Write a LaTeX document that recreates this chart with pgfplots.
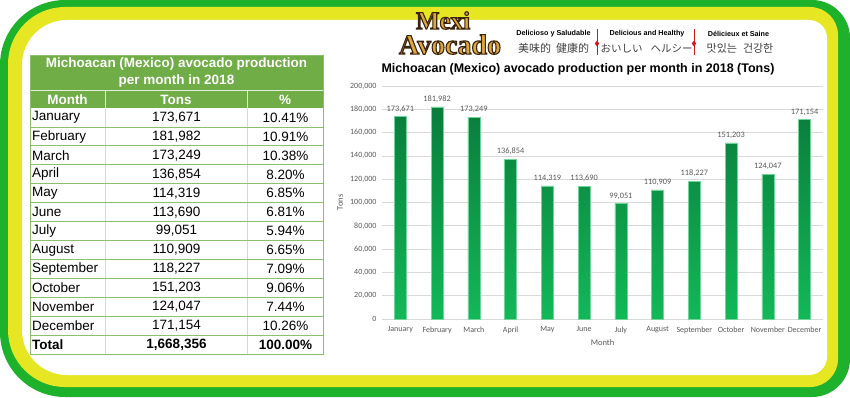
\documentclass[border=0pt]{standalone}
\usepackage{pgfplots}
\pgfplotsset{compat=1.18}
\usepackage{pgfplotstable}
\usepackage{fontspec}
\setmainfont{Liberation Sans}
\newfontfamily\chartfont{Carlito}
\newfontfamily\scfont{Noto Sans CJK SC}
\newfontfamily\jpfont{Noto Sans CJK JP}
\newfontfamily\krfont{Noto Sans CJK KR}
\newfontfamily\logofont{Liberation Serif}

\definecolor{frgreen}{HTML}{1EB12C}
\definecolor{fryellow}{HTML}{E6E622}
\definecolor{hdr}{HTML}{70AD47}
\definecolor{tline}{HTML}{8CC06A}
\definecolor{vline}{HTML}{D3DDCB}
\definecolor{barTop}{HTML}{0A7C3B}
\definecolor{barBot}{HTML}{12B858}
\definecolor{txtgray}{HTML}{595959}
\definecolor{gridgray}{HTML}{D9D9D9}
\definecolor{logogold}{HTML}{DDA83A}
\definecolor{logobrown}{HTML}{3A2210}
\definecolor{tagred}{HTML}{D01818}

\pgfplotstableread{
idx month tons
0 January 173671
1 February 181982
2 March 173249
3 April 136854
4 May 114319
5 June 113690
6 July 99051
7 August 110909
8 September 118227
9 October 151203
10 November 124047
11 December 171154
}\prodtable

\newcommand\rbox[7]{%
 \fill[#1] ({#2+#6},#3) -- ({#4-#7},#3) arc[start angle=-90,end angle=0,radius=#7]
  -- (#4,{#5-#7}) arc[start angle=0,end angle=90,radius=#7]
  -- ({#2+#6},#5) arc[start angle=90,end angle=180,radius=#6]
  -- (#2,{#3+#6}) arc[start angle=180,end angle=270,radius=#6] -- cycle;}

% outlined text via PDF text rendering mode 2 (fill + stroke)
\newcommand\outlined[4]{% x, y, size, text
 \node[text=logogold, inner sep=0pt] at (#1,#2) {\logofont\bfseries\fontsize{#3}{#3}\selectfont
   \special{pdf:literal direct 2 Tr 1.1 w 0.227 0.133 0.063 RG}#4\special{pdf:literal direct 0 Tr 0 w}};}

\begin{document}
\begin{tikzpicture}
\path[use as bounding box] (0,0) rectangle (850pt,397pt);
\begin{scope}[x=1pt,y=1pt]
\rbox{frgreen}{0}{0}{850}{397}{65}{38}
\rbox{fryellow}{8}{10}{838}{390}{57}{28}
\rbox{white}{22}{22}{827}{377}{45}{18}
\end{scope}

\begin{scope}[x=1pt,y=-1pt,yshift=397pt]
% ---------- table ----------
\fill[hdr] (30,55) rectangle (323,108);
\draw[white!80!hdr, line width=0.7pt] (30,90) -- (323,90);
\draw[white!80!hdr, line width=0.7pt] (105,90) -- (105,108) (247,90) -- (247,108);
\draw[vline, line width=0.6pt] (105,108) -- (105,354) (247,108) -- (247,354);
\foreach \k in {1,...,12} {
  \pgfmathsetmacro\yy{108+18.92*\k}
  \draw[tline, line width=0.7pt] (30,\yy) -- (323,\yy);
}
\draw[tline, line width=0.7pt] (30,55) rectangle (323,354);
\node[text=white, font=\bfseries\fontsize{13.5}{15}\selectfont] at (176.5,64) {Michoacan (Mexico) avocado production};
\node[text=white, font=\bfseries\fontsize{13.5}{15}\selectfont] at (176.5,81) {per month in 2018};
\node[text=white, font=\bfseries\fontsize{13.5}{15}\selectfont] at (67.5,99.5) {Month};
\node[text=white, font=\bfseries\fontsize{13.5}{15}\selectfont] at (176,99.5) {Tons};
\node[text=white, font=\bfseries\fontsize{13.5}{15}\selectfont] at (285,99.5) {\%};
\foreach \m/\t/\p [count=\i] in {January/{173,671}/{10.41\%},February/{181,982}/{10.91\%},March/{173,249}/{10.38\%},April/{136,854}/{8.20\%},May/{114,319}/{6.85\%},June/{113,690}/{6.81\%},July/{99,051}/{5.94\%},August/{110,909}/{6.65\%},September/{118,227}/{7.09\%},October/{151,203}/{9.06\%},November/{124,047}/{7.44\%},December/{171,154}/{10.26\%}} {
  \pgfmathsetmacro\yy{108+18.92*(\i-1)+9.6}
  \node[anchor=west, inner sep=0pt, font=\fontsize{13.5}{15}\selectfont] at (32,\yy) {\m};
  \node[inner sep=0pt, font=\fontsize{13.5}{15}\selectfont] at (176.5,\yy) {\t};
  \node[inner sep=0pt, font=\fontsize{13.5}{15}\selectfont] at (285.5,\yy) {\p};
}
\pgfmathsetmacro\yy{108+18.92*12+9.6}
\node[anchor=west, inner sep=0pt, font=\bfseries\fontsize{13.5}{15}\selectfont] at (32,\yy) {Total};
\node[inner sep=0pt, font=\bfseries\fontsize{13.5}{15}\selectfont] at (176.5,\yy) {1,668,356};
\node[inner sep=0pt, font=\bfseries\fontsize{13.5}{15}\selectfont] at (285.5,\yy) {100.00\%};

% ---------- logo ----------
\outlined{443}{20.5}{25}{Mexi}
\outlined{450}{44.5}{28}{Avocado}
\node[inner sep=0pt, font=\bfseries\fontsize{7.2}{8}\selectfont] at (553.5,33.5) {Delicioso y Saludable};
\node[inner sep=0pt, font=\scfont\fontsize{11}{12}\selectfont, text=black!75] at (553.5,48.5) {美味的\hspace{5pt}健康的};
\node[inner sep=0pt, font=\bfseries\fontsize{7.2}{8}\selectfont] at (647,33.5) {Delicious and Healthy};
\node[inner sep=0pt, font=\jpfont\fontsize{10.5}{12}\selectfont, text=black!75] at (646.5,48.5) {おいしい\hspace{8pt}ヘルシー};
\node[inner sep=0pt, font=\bfseries\fontsize{7.2}{8}\selectfont] at (738.5,33.5) {Délicieux et Saine};
\node[inner sep=0pt, font=\krfont\fontsize{11}{12}\selectfont, text=black!75] at (740,48.5) {맛있는\hspace{6pt}건강한};
\foreach \xx in {597,694} {
  \draw[tagred, line width=0.9pt] (\xx,29) -- (\xx,55);
  \fill[tagred] (\xx,40.5) -- (\xx+2.2,43.5) -- (\xx,46.5) -- (\xx-2.2,43.5) -- cycle;
}
% ---------- chart title ----------
\node[inner sep=0pt, font=\bfseries\fontsize{12.5}{14}\selectfont] at (578,69.5) {Michoacan (Mexico) avocado production per month in 2018 (Tons)};
\end{scope}

\begin{axis}[
  at={(382pt,78pt)}, anchor=south west,
  scale only axis, width=441pt, height=233pt,
  ybar, bar width=12pt,
  xmin=-0.5, xmax=11.5, ymin=0, ymax=200000,
  enlargelimits=false,
  xtick=data, xticklabels from table={\prodtable}{month},
  ytick distance=20000,
  scaled y ticks=false,
  axis line style={draw=none},
  major tick length=0pt,
  ymajorgrids, grid style={gridgray, line width=0.8pt},
  /pgf/number format/assume math mode=true,
  yticklabel style={/pgf/number format/fixed, /pgf/number format/1000 sep={,}, xshift=-2pt},
  ticklabel style={font=\chartfont\fontsize{8}{9.6}\selectfont, text=txtgray},
  xticklabel style={yshift=-4pt},
  ylabel={Tons}, xlabel={Month},
  label style={font=\chartfont\fontsize{8.5}{10}\selectfont, text=txtgray},
  ylabel style={at={(axis description cs:-0.095,0.5)}, anchor=center},
  xlabel style={at={(axis description cs:0.5,-0.103)}, anchor=center},
  nodes near coords={\pgfmathprintnumber[fixed,1000 sep={,},assume math mode=true]{\pgfplotspointmeta}},
  every node near coord/.append style={font=\chartfont\fontsize{8.3}{9.6}\selectfont, text=txtgray, yshift=1pt},
]
\addplot[draw=barBot!60!white, line width=0.4pt, top color=barTop, bottom color=barBot] table[x=idx,y=tons]{\prodtable};
\end{axis}
\end{tikzpicture}
\end{document}
